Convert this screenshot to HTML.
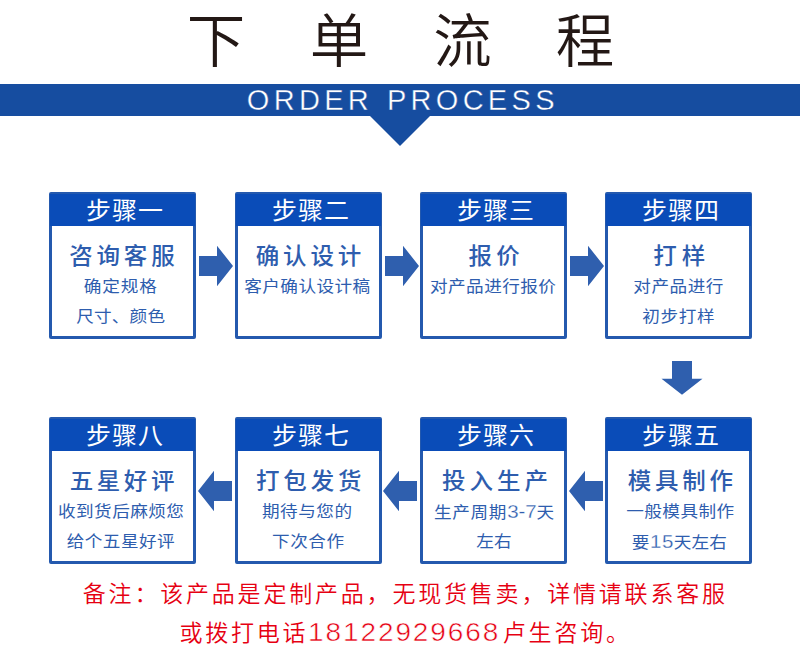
<!DOCTYPE html>
<html lang="zh-CN">
<head>
<meta charset="utf-8">
<title>下单流程 ORDER PROCESS</title>
<style>
html,body{margin:0;padding:0;background:#fff;}
body{width:800px;height:660px;position:relative;overflow:hidden;font-family:"Liberation Sans","Noto Sans CJK SC",sans-serif;}
.abs{position:absolute;}
.title{left:0;top:0;width:800px;height:84px;}
.title span{position:absolute;top:4px;width:80px;margin-left:-40px;text-align:center;font-size:58.5px;line-height:76px;font-weight:350;color:#231815;}
.banner{left:0;top:84px;width:800px;height:32px;background:#164da0;}
.tri{left:370px;top:116px;width:0;height:0;border-left:30px solid transparent;border-right:30px solid transparent;border-top:30px solid #164da0;}
.en{left:2.8px;top:83.7px;word-spacing:1.5px;width:800px;height:32px;line-height:32px;text-align:center;color:#fff;font-size:29px;letter-spacing:4.3px;white-space:nowrap;-webkit-text-stroke:0.4px #164da0;}
.box{position:absolute;width:147px;height:147px;box-sizing:border-box;border:3px solid #2459ae;border-radius:2px;background:#fff;}
.hd{position:absolute;left:-2px;top:-1.5px;width:145px;height:32.5px;background:#0a4cb8;color:#fff;font-size:25px;line-height:37px;letter-spacing:1px;font-weight:400;white-space:nowrap;}
.hd span{position:absolute;left:0;top:-1.2px;transform:scaleY(0.95);}
.tt{position:absolute;left:-3px;width:147px;top:45.5px;height:30px;line-height:30px;font-size:23.5px;letter-spacing:3.5px;font-weight:500;color:#2e5dae;white-space:nowrap;}
.tt span{position:absolute;left:0;top:0;transform:scaleY(0.95);}
.ln{position:absolute;left:-3px;width:147px;height:30px;line-height:30px;font-size:17.6px;color:#2e5dae;white-space:nowrap;font-weight:400;}
.ln span{position:absolute;left:0;top:0;transform:scaleY(0.91);}
.ln i{font-style:normal;-webkit-text-stroke:0.3px #fff;font-size:20.5px;letter-spacing:0;margin:0 -0.3px 0 0;}
.l1{top:77.4px;}
.l2{top:107.4px;}
.num{display:inline-block;width:194.4px;height:30px;vertical-align:top;position:relative;}
.num b{position:absolute;left:0;top:-1.3px;font-weight:normal;font-size:25px;line-height:31px;letter-spacing:1.7px;transform-origin:0 50%;transform:scaleX(1.12);-webkit-text-stroke:0.5px #fff;}
.note{left:6px;width:800px;text-align:center;color:#e60012;font-size:23px;line-height:30px;letter-spacing:2.8px;white-space:nowrap;font-weight:350;}
svg{position:absolute;left:0;top:0;}
</style>
</head>
<body>
<div class="abs title"><span style="left:216px">下</span><span style="left:339px">单</span><span style="left:462.5px">流</span><span style="left:585px">程</span></div>
<div class="abs banner"></div>
<div class="abs tri"></div>
<div class="abs en">ORDER PROCESS</div>
<div class="box" style="left:49px;top:192px"><div class="hd"><span style="left:36.00px;letter-spacing:1.00px">步骤一</span></div><div class="tt"><span style="left:20.25px;letter-spacing:3.80px">咨询客服</span></div><div class="ln l1"><span style="left:34.75px;letter-spacing:0.92px">确定规格</span></div><div class="ln l2"><span style="left:27.25px;letter-spacing:0.19px">尺寸、颜色</span></div></div>
<div class="box" style="left:235px;top:192px"><div class="hd"><span style="left:36.00px;letter-spacing:1.00px">步骤二</span></div><div class="tt"><span style="left:20.75px;letter-spacing:3.83px">确认设计</span></div><div class="ln l1"><span style="left:9.25px;letter-spacing:0.45px">客户确认设计稿</span></div></div>
<div class="box" style="left:420px;top:192px"><div class="hd"><span style="left:36.00px;letter-spacing:1.00px">步骤三</span></div><div class="tt"><span style="left:48.50px;letter-spacing:4.25px">报价</span></div><div class="ln l1"><span style="left:10.00px;letter-spacing:0.45px">对产品进行报价</span></div></div>
<div class="box" style="left:605px;top:192px"><div class="hd"><span style="left:36.00px;letter-spacing:1.00px">步骤四</span></div><div class="tt"><span style="left:48.25px;letter-spacing:5.00px">打样</span></div><div class="ln l1"><span style="left:28.25px;letter-spacing:0.56px">对产品进行</span></div><div class="ln l2"><span style="left:37.25px;letter-spacing:0.67px">初步打样</span></div></div>
<div class="box" style="left:605px;top:417px"><div class="hd"><span style="left:36.00px;letter-spacing:1.00px">步骤五</span></div><div class="tt"><span style="left:22.75px;letter-spacing:3.72px">模具制作</span></div><div class="ln l1"><span style="left:21.25px;letter-spacing:0.45px">一般模具制作</span></div><div class="ln l2"><span style="left:26.75px;letter-spacing:0.10px">要<i style="letter-spacing:0.7px;margin-left:0.5px">15</i>天左右</span></div></div>
<div class="box" style="left:420px;top:417px"><div class="hd"><span style="left:36.00px;letter-spacing:1.00px">步骤六</span></div><div class="tt"><span style="left:22.00px;letter-spacing:4.00px">投入生产</span></div><div class="ln l1"><span style="left:14.00px;letter-spacing:0.69px">生产周期<i>3-7</i>天</span></div><div class="ln l2"><span style="left:56.25px;letter-spacing:0.25px">左右</span></div></div>
<div class="box" style="left:235px;top:417px"><div class="hd"><span style="left:36.00px;letter-spacing:1.00px">步骤七</span></div><div class="tt"><span style="left:21.00px;letter-spacing:3.83px">打包发货</span></div><div class="ln l1"><span style="left:27.00px;letter-spacing:0.53px">期待与您的</span></div><div class="ln l2"><span style="left:37.00px;letter-spacing:0.58px">下次合作</span></div></div>
<div class="box" style="left:49px;top:417px"><div class="hd"><span style="left:36.00px;letter-spacing:1.00px">步骤八</span></div><div class="tt"><span style="left:20.75px;letter-spacing:3.56px">五星好评</span></div><div class="ln l1"><span style="left:9.00px;letter-spacing:0.45px">收到货后麻烦您</span></div><div class="ln l2"><span style="left:17.75px;letter-spacing:0.45px">给个五星好评</span></div></div>
<svg width="800" height="660" viewBox="0 0 800 660" fill="#2f5fae"><polygon points="199,256 217,256 217,245.7 233,266 217,286.3 217,276 199,276"/><polygon points="385,256 403,256 403,245.7 419,266 403,286.3 403,276 385,276"/><polygon points="570,256 588,256 588,245.7 604,266 588,286.3 588,276 570,276"/><polygon points="198,491 214,470.7 214,481 232,481 232,501 214,501 214,511.3"/><polygon points="383,491 399,470.7 399,481 417,481 417,501 399,501 399,511.3"/><polygon points="569,491 585,470.7 585,481 603,481 603,501 585,501 585,511.3"/><polygon points="672,361 692,361 692,378.7 702.5,378.7 682,394.7 661.5,378.7 672,378.7"/></svg>
<div class="abs note" style="top:578.5px;left:5.3px">备注：该产品是定制产品，无现货售卖，详情请联系客服</div>
<div class="abs note" style="top:617.8px;left:5.6px">或拨打电话<span class="num"><b>18122929668</b></span>卢生咨询。</div>
</body>
</html>
